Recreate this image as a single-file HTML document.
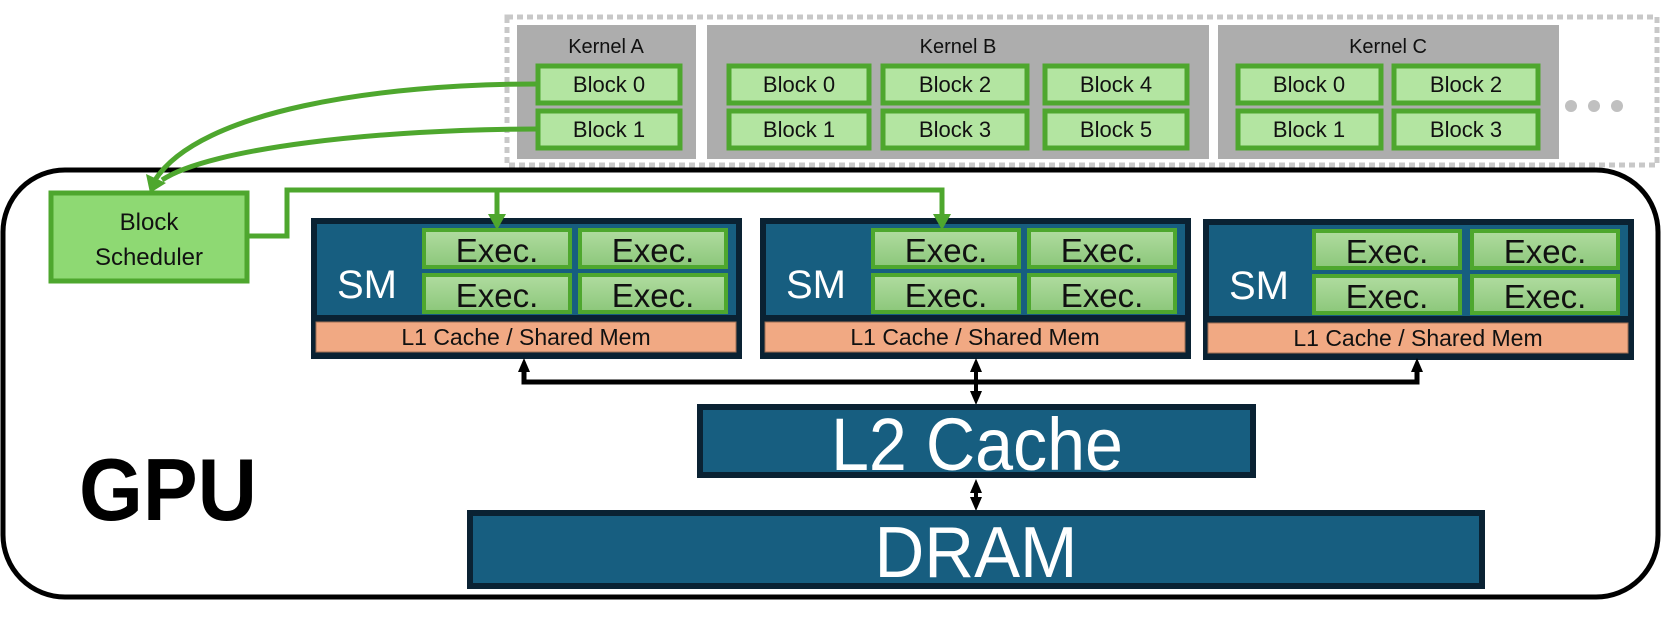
<!DOCTYPE html>
<html><head><meta charset="utf-8"><style>
html,body{margin:0;padding:0;background:#fff;}
svg{display:block;}
text{font-family:"Liberation Sans",sans-serif;}
</style></head><body>
<svg width="1661" height="643" viewBox="0 0 1661 643" xmlns="http://www.w3.org/2000/svg">
<defs>
<linearGradient id="eg" x1="0" y1="0" x2="0" y2="1"><stop offset="0" stop-color="#b0dca0"/><stop offset="1" stop-color="#8cc77a"/></linearGradient>
</defs>
<rect x="507" y="17" width="1150" height="148" fill="none" stroke="#c8c8c8" stroke-width="5" stroke-dasharray="6,4"/>
<rect x="517" y="25" width="179" height="134" fill="#adadad"/>
<rect x="707" y="25" width="502" height="134" fill="#adadad"/>
<rect x="1218" y="25" width="341" height="134" fill="#adadad"/>
<g font-size="20" fill="#111" text-anchor="middle">
<text x="606" y="53">Kernel A</text>
<text x="958" y="53">Kernel B</text>
<text x="1388" y="53">Kernel C</text>
</g>
<g fill="#b3e5a1" stroke="#4ea72e" stroke-width="5">
<rect x="538" y="66" width="142" height="37"/>
<rect x="538" y="111" width="142" height="37"/>
<rect x="729" y="66" width="140" height="37"/>
<rect x="729" y="111" width="140" height="37"/>
<rect x="883" y="66" width="144" height="37"/>
<rect x="883" y="111" width="144" height="37"/>
<rect x="1045" y="66" width="142" height="37"/>
<rect x="1045" y="111" width="142" height="37"/>
<rect x="1238" y="66" width="143" height="37"/>
<rect x="1238" y="111" width="143" height="37"/>
<rect x="1394" y="66" width="144" height="37"/>
<rect x="1394" y="111" width="144" height="37"/>
</g>
<g font-size="22" fill="#111" text-anchor="middle">
<text x="609" y="92">Block 0</text><text x="609" y="137">Block 1</text>
<text x="799" y="92">Block 0</text><text x="799" y="137">Block 1</text>
<text x="955" y="92">Block 2</text><text x="955" y="137">Block 3</text>
<text x="1116" y="92">Block 4</text><text x="1116" y="137">Block 5</text>
<text x="1309" y="92">Block 0</text><text x="1309" y="137">Block 1</text>
<text x="1466" y="92">Block 2</text><text x="1466" y="137">Block 3</text>
</g>
<g fill="#c0c0c0"><circle cx="1571" cy="106" r="6"/><circle cx="1594" cy="106" r="6"/><circle cx="1617" cy="106" r="6"/></g>
<path d="M70,170 H1596 A62,62 0 0 1 1658,232 V535 A62,62 0 0 1 1596,597 H65 A62,62 0 0 1 3,535 V232 A62,62 0 0 1 65,170 Z" fill="#fff" stroke="#000" stroke-width="5"/>
<text x="79" y="520" font-size="88" font-weight="bold" fill="#000" textLength="178" lengthAdjust="spacingAndGlyphs">GPU</text>
<path d="M538,84 C380,84 200,110 155,180" fill="none" stroke="#4ea72e" stroke-width="5"/>
<path d="M538,129 C380,129 210,148 162,180" fill="none" stroke="#4ea72e" stroke-width="5"/>
<path d="M146,174 L150,193 L166,183 z" fill="#4ea72e"/>
<rect x="51" y="193" width="196" height="88" fill="#8ed973" stroke="#4ea72e" stroke-width="5"/>
<text x="149" y="230" font-size="24" fill="#111" text-anchor="middle">Block</text>
<text x="149" y="265" font-size="24" fill="#111" text-anchor="middle">Scheduler</text>
<rect x="311" y="218" width="431" height="141" fill="#0a2233"/>
<rect x="317" y="224" width="419" height="91" fill="#175e80"/>
<rect x="316" y="322" width="420" height="30" fill="#f1a983" stroke="#a07055" stroke-width="1"/>
<rect x="760" y="218" width="431" height="141" fill="#0a2233"/>
<rect x="766" y="224" width="419" height="91" fill="#175e80"/>
<rect x="765" y="322" width="420" height="30" fill="#f1a983" stroke="#a07055" stroke-width="1"/>
<rect x="1203" y="219" width="431" height="141" fill="#0a2233"/>
<rect x="1209" y="225" width="419" height="91" fill="#175e80"/>
<rect x="1208" y="323" width="420" height="30" fill="#f1a983" stroke="#a07055" stroke-width="1"/>
<g fill="url(#eg)" stroke="#4ea72e" stroke-width="4">
<rect x="424" y="230" width="146" height="37"/><rect x="580" y="230" width="146" height="37"/>
<rect x="424" y="275" width="146" height="37"/><rect x="580" y="275" width="146" height="37"/>
<rect x="873" y="230" width="146" height="37"/><rect x="1029" y="230" width="146" height="37"/>
<rect x="873" y="275" width="146" height="37"/><rect x="1029" y="275" width="146" height="37"/>
<rect x="1314" y="231" width="146" height="37"/><rect x="1472" y="231" width="146" height="37"/>
<rect x="1314" y="276" width="146" height="37"/><rect x="1472" y="276" width="146" height="37"/>
</g>
<path d="M249,236 H287 V190 H942 V218" fill="none" stroke="#4ea72e" stroke-width="5"/>
<path d="M497,190 V218" fill="none" stroke="#4ea72e" stroke-width="5"/>
<path d="M488,214 L497,230 L506,214 z" fill="#4ea72e"/>
<path d="M933,214 L942,230 L951,214 z" fill="#4ea72e"/>
<g font-size="33" fill="#111" text-anchor="middle">
<text x="497" y="262">Exec.</text><text x="653" y="262">Exec.</text>
<text x="497" y="307">Exec.</text><text x="653" y="307">Exec.</text>
<text x="946" y="262">Exec.</text><text x="1102" y="262">Exec.</text>
<text x="946" y="307">Exec.</text><text x="1102" y="307">Exec.</text>
<text x="1387" y="263">Exec.</text><text x="1545" y="263">Exec.</text>
<text x="1387" y="308">Exec.</text><text x="1545" y="308">Exec.</text>
</g>
<g font-size="40" fill="#fff" text-anchor="middle">
<text x="367" y="298">SM</text><text x="816" y="298">SM</text><text x="1259" y="299">SM</text>
</g>
<g font-size="23" fill="#111" text-anchor="middle">
<text x="526" y="345">L1 Cache / Shared Mem</text>
<text x="975" y="345">L1 Cache / Shared Mem</text>
<text x="1418" y="346">L1 Cache / Shared Mem</text>
</g>
<path d="M524,370 V382 H1417 V370" fill="none" stroke="#000" stroke-width="5"/>
<path d="M976,370 V395 M976,487 V501" fill="none" stroke="#000" stroke-width="4"/>
<g fill="#000">
<path d="M518,372 L524,358 L530,372 z"/>
<path d="M1411,372 L1417,358 L1423,372 z"/>
<path d="M970,372 L976,358 L982,372 z"/>
<path d="M970,391 L976,405 L982,391 z"/>
<path d="M970,493 L976,479 L982,493 z"/>
<path d="M970,497 L976,511 L982,497 z"/>
</g>
<rect x="697" y="404" width="559" height="74" fill="#0a2233"/>
<rect x="703" y="410" width="547" height="62" fill="#175e80"/>
<text x="977" y="470" font-size="74" fill="#fff" text-anchor="middle" textLength="292" lengthAdjust="spacingAndGlyphs">L2 Cache</text>
<rect x="467" y="510" width="1018" height="79" fill="#0a2233"/>
<rect x="473" y="516" width="1006" height="67" fill="#175e80"/>
<text x="976" y="577" font-size="72" fill="#fff" text-anchor="middle" textLength="203" lengthAdjust="spacingAndGlyphs">DRAM</text>
</svg>
</body></html>
